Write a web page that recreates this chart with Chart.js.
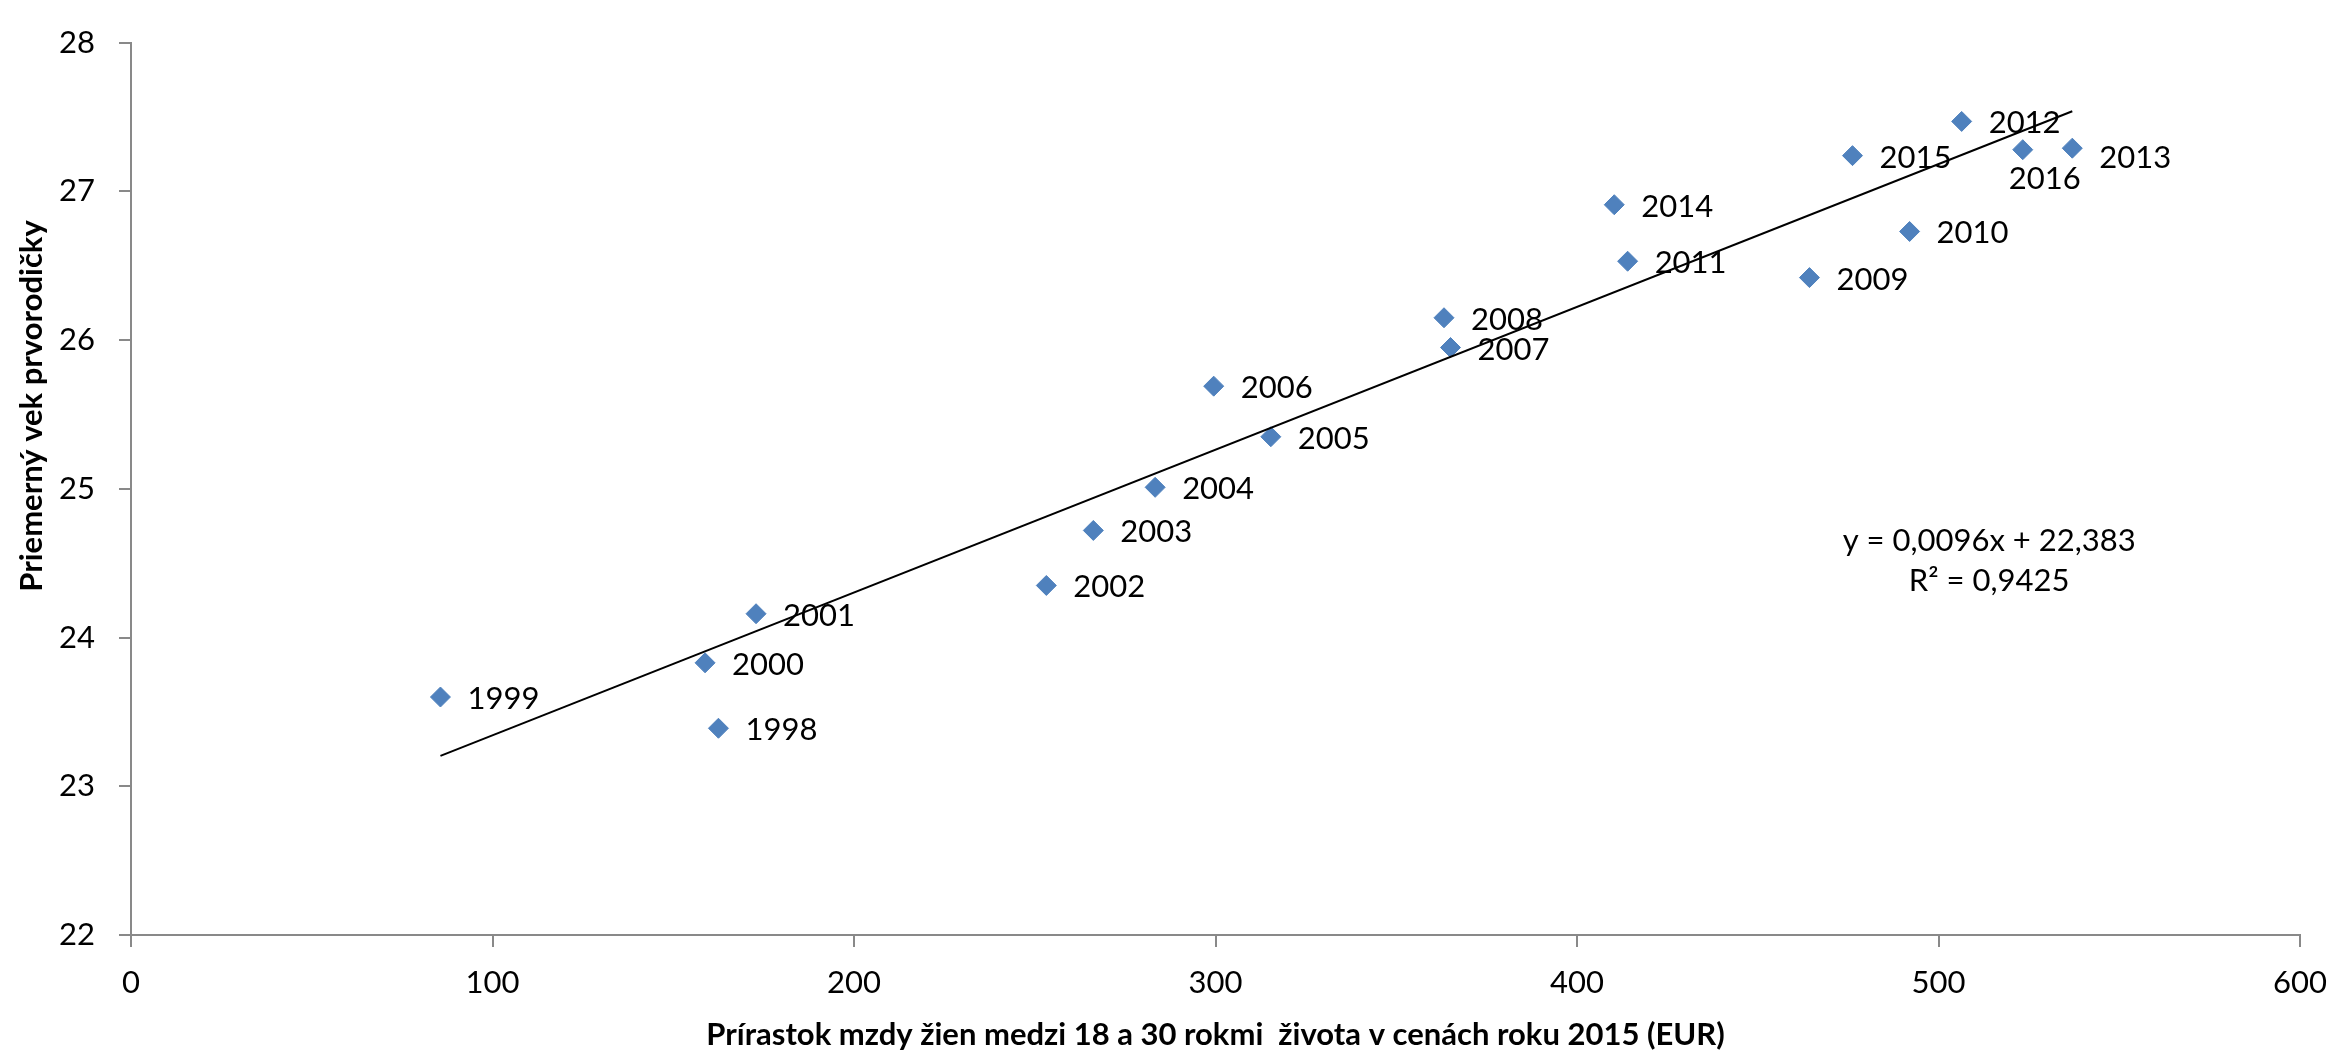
<!DOCTYPE html>
<html><head><meta charset="utf-8">
<script src="https://cdn.jsdelivr.net/npm/chart.js@4.4.1/dist/chart.umd.min.js"></script>
<style>html,body{margin:0;padding:0;background:#fff}#wrap{width:2344px;height:1056px}</style>
</head><body><div id="wrap"><canvas id="c" width="2344" height="1056"></canvas></div>
<script>
// ---- data ----
const years = [1998,1999,2000,2001,2002,2003,2004,2005,2006,2007,2008,2009,2010,2011,2012,2013,2014,2015,2016];
const wageGrowth = [162.5,85.6,158.8,172.9,253.2,266.2,283.3,315.3,299.5,365.0,363.2,464.3,492.0,414.0,506.4,537.0,410.3,476.2,523.3];
const firstBirthAge = [23.39,23.60,23.83,24.16,24.35,24.72,25.01,25.35,25.69,25.95,26.15,26.42,26.73,26.53,27.47,27.29,26.91,27.24,27.28];
const xTicks = [0,100,200,300,400,500,600];
const yTicks = [22,23,24,25,26,27,28];
const trendSlope = 0.0096;
const trendIntercept = 22.383;
const trendText = ['y = 0,0096x + 22,383','R\u00B2 = 0,9425'];
const xTitle = 'Prírastok mzdy žien medzi 18 a 30 rokmi  života v cenách roku 2015 (EUR)';
const yTitle = 'Priemerný vek prvorodičky';

// ---- label placement (style) ----
const defaultOffset = {dx: 27, dy: 2};
const labelOffsets = {2013: {dx: 27, dy: 10}, 2016: {dx: -14, dy: 29}};
const eqAnchor = {x: 514, y1: 24.65, y2: 24.38};

const FONT = 'Lato';
const trendX = [Math.min(...wageGrowth), Math.max(...wageGrowth)];
const trendPts = trendX.map(x => ({x: x, y: trendSlope * x + trendIntercept}));

const labelPlugin = {
  id: 'pointLabels',
  afterDatasetsDraw(chart) {
    const ctx = chart.ctx;
    const meta = chart.getDatasetMeta(0);
    ctx.save();
    ctx.fillStyle = '#000';
    ctx.font = '31px ' + FONT;
    ctx.textBaseline = 'middle';
    ctx.textAlign = 'left';
    meta.data.forEach((pt, i) => {
      const o = labelOffsets[years[i]] || defaultOffset;
      ctx.fillText(String(years[i]), pt.x + o.dx, pt.y + o.dy);
    });
    const xs = chart.scales.x, ys = chart.scales.y;
    ctx.textAlign = 'center';
    ctx.fillText(trendText[0], xs.getPixelForValue(eqAnchor.x), ys.getPixelForValue(eqAnchor.y1));
    ctx.fillText(trendText[1], xs.getPixelForValue(eqAnchor.x), ys.getPixelForValue(eqAnchor.y2));
    ctx.font = 'bold 31px ' + FONT;
    ctx.translate(32, 406);
    ctx.rotate(-Math.PI / 2);
    ctx.fillText(yTitle, 0, 0);
    ctx.restore();
  }
};

const axisColor = '#898989';
new Chart(document.getElementById('c'), {
  type: 'scatter',
  data: {
    datasets: [
      {
        type: 'scatter',
        data: years.map((y, i) => ({x: wageGrowth[i], y: firstBirthAge[i]})),
        pointStyle: 'rectRot', pointRadius: 10, pointHoverRadius: 10,
        backgroundColor: '#4F81BD', borderColor: '#4F81BD', borderWidth: 1,
        order: 2
      },
      {
        type: 'line',
        data: trendPts,
        borderColor: '#000', borderWidth: 2, pointRadius: 0, fill: false,
        order: 1
      }
    ]
  },
  options: {
    responsive: false, animation: false, devicePixelRatio: 1,
    layout: {padding: {left: 0, top: 26, right: 33, bottom: 0}},
    plugins: {legend: {display: false}, tooltip: {enabled: false}},
    scales: {
      x: {
        type: 'linear', min: 0, max: 600,
        afterBuildTicks: s => { s.ticks = xTicks.map(v => ({value: v})); },
        afterFit: s => { s.height = 121; },
        grid: {display: true, drawOnChartArea: false, drawTicks: true, tickLength: 12, color: axisColor, lineWidth: 2},
        border: {display: true, color: axisColor, width: 2},
        ticks: {font: {family: FONT, size: 31}, color: '#000', padding: 17, maxRotation: 0},
        title: {display: true, text: xTitle, color: '#000', font: {family: FONT, size: 31, weight: 'bold'}, padding: {top: 0, bottom: 2}}
      },
      y: {
        type: 'linear', min: 22, max: 28,
        afterBuildTicks: s => { s.ticks = yTicks.map(v => ({value: v})); },
        afterFit: s => { s.width = 131; },
        grid: {display: true, drawOnChartArea: false, drawTicks: true, tickLength: 12, color: axisColor, lineWidth: 2},
        border: {display: true, color: axisColor, width: 2},
        ticks: {font: {family: FONT, size: 31}, color: '#000', padding: 24}
      }
    }
  },
  plugins: [labelPlugin]
});
</script></body></html>
